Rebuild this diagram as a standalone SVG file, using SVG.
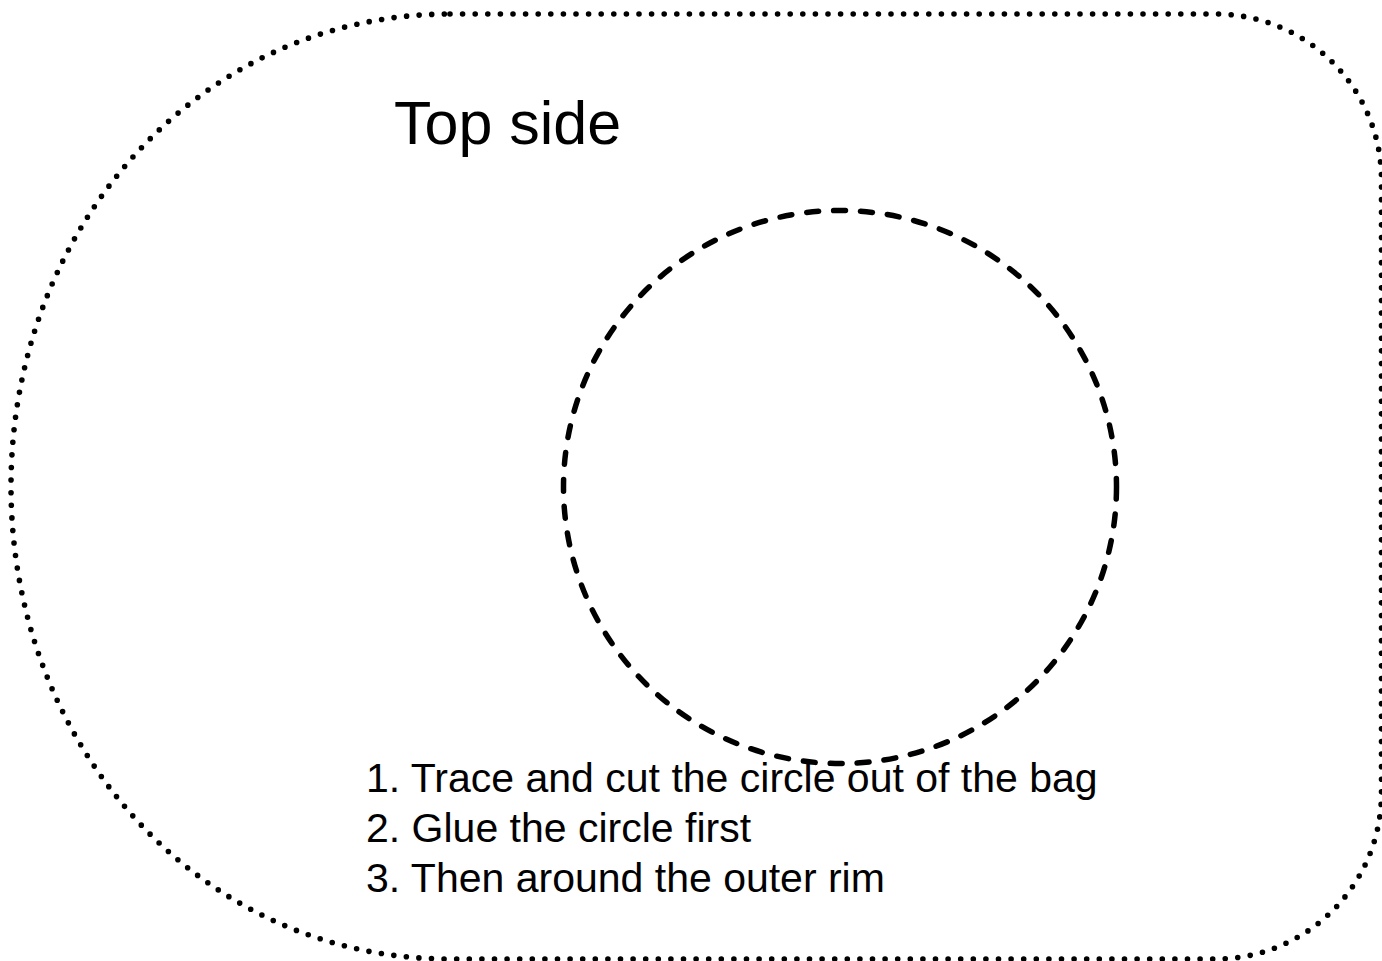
<svg xmlns="http://www.w3.org/2000/svg" width="1382" height="961" viewBox="0 0 1382 961">
  <style>
    .outline { fill: none; stroke: #000; stroke-width: 5.6; stroke-linecap: round; stroke-dasharray: 0 12.6; }
    .cut { fill: none; stroke: #000; stroke-width: 5.5; stroke-linecap: round; stroke-dasharray: 12 15; }
    .title { font-family: "Liberation Sans", Arial, Helvetica, sans-serif; font-size: 61px; fill: #000; }
    .step { font-family: "Liberation Sans", Arial, Helvetica, sans-serif; font-size: 41px; fill: #000; }
  </style>
  <rect width="1382" height="961" fill="#fff"/>
  <g id="bag-outline">
    <path class="outline" d="M 450,14 H 1216 A 166 166 0 0 1 1381.5,180 V 793 A 166 166 0 0 1 1216,959 H 450 C 200,959 11,746.5 11,486.5 C 11,226.5 200,14 450,14 Z"/>
  </g>
  <g id="title">
    <text class="title" x="394" y="144">Top side</text>
  </g>
  <g id="cut-circle">
    <circle class="cut" cx="840" cy="487" r="276.5"/>
  </g>
  <g id="instructions">
    <text class="step" x="366" y="792">1. Trace and cut the circle out of the bag</text>
    <text class="step" x="366" y="842">2. Glue the circle first</text>
    <text class="step" x="366" y="892">3. Then around the outer rim</text>
  </g>
  <g id="connectors"/>
</svg>
